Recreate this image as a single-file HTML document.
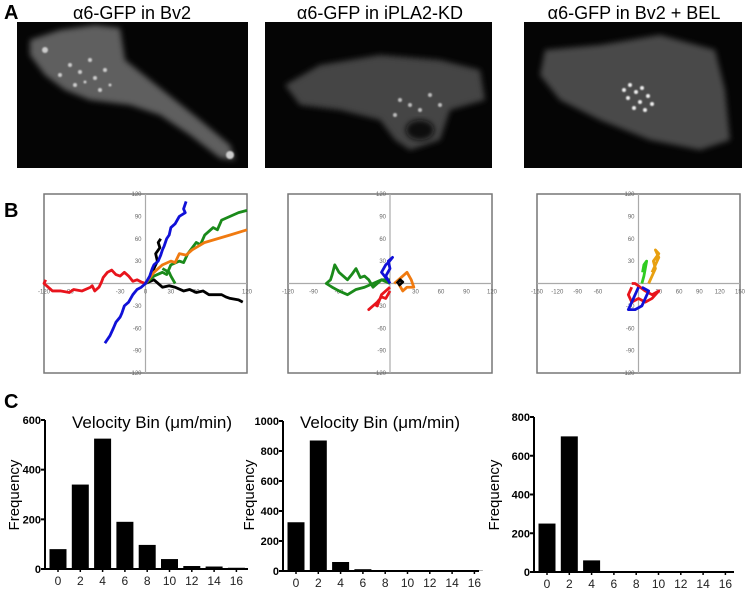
<!DOCTYPE html>
<html><head><meta charset="utf-8">
<style>
body{margin:0;background:#fff;width:745px;height:590px;overflow:hidden;font-family:"Liberation Sans",sans-serif}
svg{position:absolute;left:0;top:0}
</style></head>
<body>
<svg id="fig" width="745" height="590" viewBox="0 0 745 590">
<defs>
<filter id="blur" x="-20%" y="-20%" width="140%" height="140%"><feGaussianBlur stdDeviation="3"/></filter>
<filter id="blur2"><feGaussianBlur stdDeviation="0.8"/></filter>
</defs>
<!-- Panel A -->
<text x="4" y="19" font-size="20" font-weight="bold">A</text>
<text x="132" y="19" font-size="18" text-anchor="middle">α6-GFP in Bv2</text>
<text x="380" y="19" font-size="18" text-anchor="middle">α6-GFP in iPLA2-KD</text>
<text x="634" y="19" font-size="18" text-anchor="middle">α6-GFP in Bv2 + BEL</text>
<g>
<rect x="17" y="22" width="231" height="146" fill="#050505"/>
<polygon filter="url(#blur)" fill="#5e5e5e" points="30,40 60,30 95,25 120,28 125,60 150,80 175,100 200,120 230,145 235,160 220,158 190,135 160,115 130,105 90,100 65,90 45,75 30,55"/>
<g fill="#ccc" filter="url(#blur2)"><circle cx="45" cy="50" r="3"/><circle cx="70" cy="65" r="2"/><circle cx="80" cy="72" r="2"/><circle cx="90" cy="60" r="2"/><circle cx="95" cy="78" r="2"/><circle cx="105" cy="70" r="2"/><circle cx="75" cy="85" r="2"/><circle cx="60" cy="75" r="2"/><circle cx="230" cy="155" r="4"/><circle cx="100" cy="90" r="2"/><circle cx="85" cy="82" r="1.5"/><circle cx="110" cy="85" r="1.5"/></g>
</g>
<g>
<rect x="265" y="22" width="227" height="146" fill="#050505"/>
<polygon filter="url(#blur)" fill="#454545" points="285,85 320,65 380,55 440,60 480,70 485,100 450,110 440,140 410,150 395,140 380,120 340,110 300,105"/>
<ellipse cx="420" cy="130" rx="14" ry="10" fill="#111" filter="url(#blur)"/>
<g fill="#bbb" filter="url(#blur2)"><circle cx="400" cy="100" r="2"/><circle cx="410" cy="105" r="2"/><circle cx="395" cy="115" r="2"/><circle cx="430" cy="95" r="2"/><circle cx="420" cy="110" r="2"/><circle cx="440" cy="105" r="2"/></g>
</g>
<g>
<rect x="524" y="22" width="218" height="146" fill="#050505"/>
<polygon filter="url(#blur)" fill="#4a4a4a" points="545,50 600,45 660,35 715,50 725,90 730,140 700,150 650,140 600,120 560,100 540,75"/>
<g fill="#eee" filter="url(#blur2)"><circle cx="630" cy="85" r="2"/><circle cx="636" cy="92" r="2"/><circle cx="642" cy="88" r="2"/><circle cx="628" cy="98" r="2"/><circle cx="640" cy="102" r="2"/><circle cx="648" cy="96" r="2"/><circle cx="634" cy="108" r="2"/><circle cx="645" cy="110" r="2"/><circle cx="652" cy="104" r="2"/><circle cx="624" cy="90" r="2"/></g>
</g>
<!-- Panel B -->
<text x="4" y="217" font-size="20" font-weight="bold">B</text>
<g id="tracks"></g>
<!-- Panel C -->
<text x="4" y="408" font-size="20" font-weight="bold">C</text>
<g id="hists"></g>
</svg>
<script>
// ---- Track data (data units) ----
const box1Red = [[0,0],[-5,2],[-10,5],[-15,3],[-20,10],[-25,15],[-30,10],[-35,12],[-40,18],[-45,15],[-50,8],[-52,2],[-55,-5],[-60,-10],[-63,-3],[-65,-5],[-75,-10],[-85,-8],[-90,-12],[-100,-10],[-110,-10],[-115,-5],[-120,0],[-118,5]];
const box1Blue = [[48,110],[45,100],[47,95],[40,90],[35,80],[30,75],[28,65],[25,60],[22,50],[20,45],[18,38],[15,30],[10,25],[8,20],[5,10],[0,0],[-5,-5],[-10,-8],[-15,-15],[-20,-25],[-25,-30],[-28,-40],[-30,-45],[-35,-52],[-38,-60],[-42,-70],[-45,-75],[-48,-80]];
const box1Black = [[18,60],[15,55],[17,48],[12,40],[14,30],[10,20],[5,5],[0,0],[10,5],[20,-5],[28,-3],[35,-5],[45,-10],[52,-8],[60,-12],[68,-10],[75,-15],[90,-15],[95,-18],[100,-20],[110,-22],[115,-25]];
const box1Green = [[0,0],[10,10],[20,15],[25,12],[30,25],[40,30],[45,28],[50,40],[60,55],[65,52],[70,65],[80,75],[85,72],[90,85],[100,90],[110,95],[120,98]];
const box1Green2 = [[20,20],[28,15],[30,10],[35,0]];
const box1Orange = [[0,0],[10,15],[20,25],[30,30],[35,28],[40,40],[48,38],[55,45],[70,55],[85,60],[100,65],[120,72]];
const box2Green = [[0,0],[-10,5],[-20,-5],[-25,5],[-30,10],[-35,8],[-40,20],[-45,12],[-50,5],[-55,10],[-60,15],[-65,25],[-68,12],[-70,5],[-75,0],[-68,-5],[-60,-10],[-50,-15],[-40,-8],[-30,-5],[-20,0],[-10,5],[0,5]];
const box2Blue = [[0,0],[-5,10],[0,20],[-2,30],[3,35],[-2,28],[-5,25],[-10,15],[-3,5]];
const box2Red = [[0,-10],[-5,-20],[-10,-18],[-15,-25],[-20,-30],[-25,-35],[-18,-28],[-15,-30],[-10,-15],[0,-5]];
const box2Orange = [[5,0],[10,5],[15,10],[20,15],[25,5],[28,-5],[20,-5],[15,-10],[10,0]];
const box2Black = [[8,0],[12,5],[15,2],[10,-3]];
const box3Orange = [[15,0],[20,10],[25,20],[22,30],[30,40],[25,45],[30,35],[25,25],[20,15]];
const box3Green = [[5,0],[8,10],[10,20],[12,30],[8,25],[6,15]];
const box3Red = [[-10,-5],[-15,-15],[-10,-25],[0,-20],[10,-25],[20,-20],[30,-10],[20,-15],[10,-10],[-5,0],[-10,0]];
const box3Blue = [[0,-5],[-5,-15],[-10,-25],[-15,-35],[-5,-35],[5,-30],[10,-20],[15,-10],[5,-5]];
const box1XTicks = [-120,-90,-30,0,30,60,120];
const box1YTicks = [120,90,60,30,-30,-60,-90,-120];
const box2XTicks = [-120,-90,-60,30,60,90,120];
const box3XTicks = [-150,-120,-90,-60,30,60,90,120,150];

// ---- Histogram data ----
const bins = ["0","2","4","6","8","10","12","14","16"];
const h1Values = [80,340,525,190,97,40,12,10,5];
const h2Values = [325,870,60,12,5,6,4,3,2];
const h3Values = [250,700,60,5,2,1,1,1,1];
const h1Ticks = [0,200,400,600];
const h2Ticks = [0,200,400,600,800,1000];
const h3Ticks = [0,200,400,600,800];

const NS="http://www.w3.org/2000/svg";
function mk(tag, attrs, parent){const e=document.createElementNS(NS,tag);for(const k in attrs)e.setAttribute(k,attrs[k]);parent.appendChild(e);return e;}

function trackBox(name,x0,x1,y0,y1,rangeX,rangeY,xt,yt,series){
  const g=mk('g',{},document.getElementById('tracks'));
  
  
  const cx=(x0+x1)/2, cy=(y0+y1)/2;
  const sx=v=>cx+v/rangeX*(x1-x0)/2, sy=v=>cy-v/rangeY*(y1-y0)/2;
  const r=mk('rect',{x:x0,y:y0,width:x1-x0,height:y1-y0,fill:'#fff',stroke:'#777','stroke-width':1.5},g);
  
  
  const ax=mk('line',{x1:x0,x2:x1,y1:cy,y2:cy,stroke:'#aaa','stroke-width':1.2},g);
  
  
  const ay=mk('line',{x1:cx,x2:cx,y1:y0,y2:y1,stroke:'#aaa','stroke-width':1.2},g);
  
  
  xt.forEach(v=>{const t=mk('text',{x:sx(v),y:cy+10,'font-size':6,fill:'#666','text-anchor':'middle'},g);t.textContent=v;
    
    });
  yt.forEach(v=>{const t=mk('text',{x:cx-4,y:sy(v)+2,'font-size':6,fill:'#666','text-anchor':'end'},g);t.textContent=v;
    
    });
  series.forEach(([pts,col])=>{
    const p=mk('polyline',{points:pts.map(q=>sx(q[0])+','+sy(q[1])).join(' '),fill:'none',stroke:col,'stroke-width':2.8,'stroke-linejoin':'round'},g);
    
    
  });
}
trackBox('track-plot-bv2',44,247,194,373,120,120,box1XTicks,box1YTicks,[[box1Red,'#e8141c'],[box1Black,'#000'],[box1Green,'#1a8a1a'],[box1Green2,'#1a8a1a'],[box1Orange,'#f07a10'],[box1Blue,'#1010d8']]);
trackBox('track-plot-iPLA2-KD',288,492,194,373,120,120,box2XTicks,box1YTicks,[[box2Green,'#1a8a1a'],[box2Red,'#e8141c'],[box2Orange,'#f07a10'],[box2Blue,'#1010d8'],[box2Black,'#000']]);
trackBox('track-plot-bv2-bel',537,740,194,373,150,120,box3XTicks,box1YTicks,[[box3Red,'#e8141c'],[box3Blue,'#1010d8'],[box3Orange,'#e8a010'],[box3Green,'#30cc20']]);

function hist(name,ax,xEnd,yTop,yBase,max,ticks,vals,title,titleX,freqX){
  const g=mk('g',{},document.getElementById('hists'));
  
  
  const sy=v=>yBase-v/max*(yBase-yTop);
  const step=22.3, bw=17;
  vals.forEach((v,i)=>{
    const c=ax+13+i*step;
    const b=mk('rect',{x:c-bw/2,y:sy(v),width:bw,height:yBase-sy(v),fill:'#000'},g);
    
    
    const t=mk('text',{x:c,y:yBase+16,'font-size':12,'text-anchor':'middle',fill:'#222'},g);t.textContent=bins[i];
    
    
  });
  const ya=mk('line',{x1:ax,x2:ax,y1:yTop,y2:yBase,stroke:'#000','stroke-width':2},g);
  
  
  const xa=mk('line',{x1:ax,x2:xEnd,y1:yBase,y2:yBase,stroke:'#000','stroke-width':2},g);
  
  
  vals.forEach((v,i)=>{const c=ax+13+i*step;mk('line',{x1:c,x2:c,y1:yBase,y2:yBase+3,stroke:'#000','stroke-width':1.5},g);});
  ticks.forEach(v=>{
    mk('line',{x1:ax-4,x2:ax,y1:sy(v),y2:sy(v),stroke:'#000','stroke-width':2},g);
    const t=mk('text',{x:ax-4,y:sy(v)+4,'font-size':11,'font-weight':'bold','text-anchor':'end'},g);t.textContent=v;
    
    
  });
  const f=mk('text',{x:freqX,y:495,'font-size':15,'text-anchor':'middle',transform:`rotate(-90 ${freqX} 495)`},g);f.textContent='Frequency';
  
  
  if(title){const t=mk('text',{x:titleX,y:428,'font-size':17},g);t.textContent=title;
    
    }
}
hist('histogram-bv2',45,248,420,569,600,h1Ticks,h1Values,'Velocity Bin (μm/min)',72,19);
hist('histogram-iPLA2-KD',283,479,421,571,1000,h2Ticks,h2Values,'Velocity Bin (μm/min)',300,254);
hist('histogram-bv2-bel',534,734,417,572,800,h3Ticks,h3Values,null,0,499);
</script>
</body></html>
